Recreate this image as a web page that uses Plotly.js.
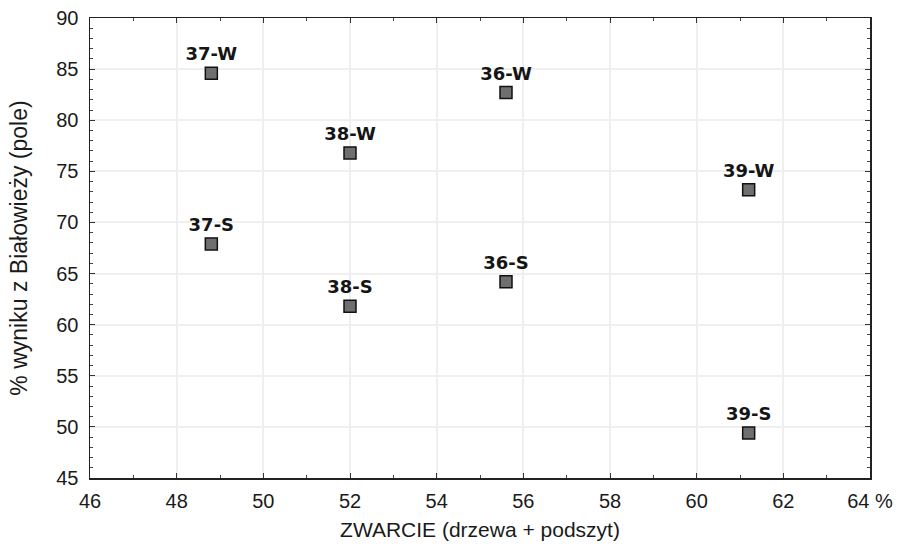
<!DOCTYPE html>
<html>
<head>
<meta charset="utf-8">
<script src="https://cdn.plot.ly/plotly-3.0.1.min.js"></script>
<style>
  html, body { margin: 0; padding: 0; background: #ffffff; }
  #chart { width: 900px; height: 545px; }
</style>
</head>
<body>
<div id="chart"></div>
<script>
// Plot labels (site number + season) and the two measured variables
const pointLabels = ['37-W', '36-W', '38-W', '39-W', '37-S', '36-S', '38-S', '39-S'];
const canopyCover = [48.8, 55.6, 52.0, 61.2, 48.8, 55.6, 52.0, 61.2];   // ZWARCIE, %
const bialowiezaPct = [84.6, 82.7, 76.8, 73.2, 67.9, 64.2, 61.8, 49.4]; // % of Białowieża result

const xTickVals = [46, 48, 50, 52, 54, 56, 58, 60, 62, 64];
const xTickText = ['46', '48', '50', '52', '54', '56', '58', '60', '62', '64 %'];
const yTickVals = [45, 50, 55, 60, 65, 70, 75, 80, 85, 90];

const tickFont = { family: 'Liberation Sans, Arial, sans-serif', size: 20, color: '#1a1a1a' };

const trace = {
  type: 'scatter',
  mode: 'markers+text',
  x: canopyCover,
  y: bialowiezaPct,
  text: pointLabels,
  textposition: 'top center',
  textfont: { family: 'DejaVu Sans, sans-serif', size: 18, color: '#151515', weight: 'bold' },
  marker: {
    symbol: 'square',
    size: 12,
    color: '#6f6f6f',
    line: { color: '#111111', width: 1.5 }
  },
  cliponaxis: false,
  hoverinfo: 'skip'
};

const axisCommon = {
  showline: true,
  linecolor: '#222222',
  linewidth: 1.5,
  mirror: 'ticks',
  ticks: 'inside',
  ticklen: 5,
  tickwidth: 1,
  tickcolor: '#333333',
  showgrid: true,
  gridcolor: '#efefef',
  gridwidth: 2,
  zeroline: false,
  tickfont: tickFont,
  fixedrange: true
};

const layout = {
  width: 900,
  height: 545,
  margin: { l: 90, r: 30, t: 18, b: 67 },
  paper_bgcolor: '#ffffff',
  plot_bgcolor: '#ffffff',
  showlegend: false,
  xaxis: Object.assign({}, axisCommon, {
    range: [46, 64],
    tickvals: xTickVals,
    ticktext: xTickText,
    ticklabelstandoff: 4,
    minor: { ticks: 'inside', ticklen: 3, dtick: 1, tickcolor: '#444444', showgrid: false },
    title: {
      text: 'ZWARCIE (drzewa + podszyt)',
      font: { family: 'Liberation Sans, Arial, sans-serif', size: 21, color: '#1a1a1a' },
      standoff: 12
    }
  }),
  yaxis: Object.assign({}, axisCommon, {
    range: [45, 90],
    tickvals: yTickVals,
    ticktext: yTickVals.map(String),
    ticklabelstandoff: 6,
    minor: { ticks: 'inside', ticklen: 3, dtick: 1, tickcolor: '#444444', showgrid: false },
    title: {
      text: '% wyniku z Białowieży (pole)',
      font: { family: 'Liberation Sans, Arial, sans-serif', size: 23, color: '#1a1a1a' },
      standoff: 22
    }
  })
};

Plotly.newPlot('chart', [trace], layout, { staticPlot: true, displayModeBar: false });
</script>
</body>
</html>
